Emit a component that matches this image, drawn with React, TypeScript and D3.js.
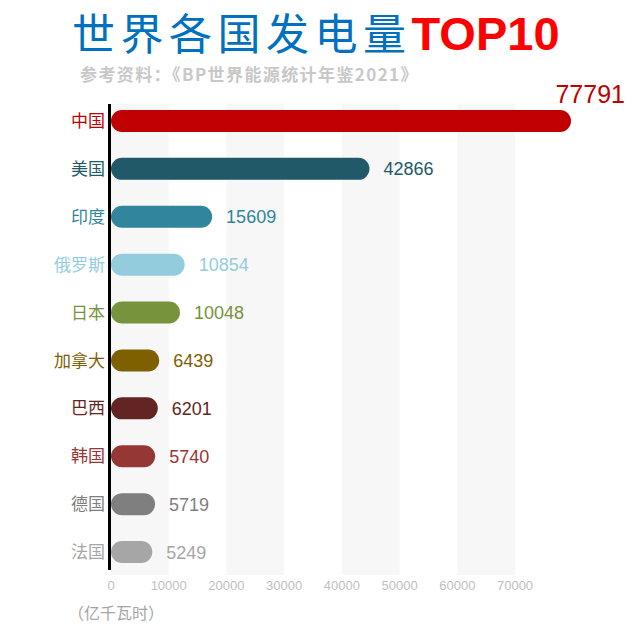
import * as React from "react";
import * as d3 from "d3";

const countries = ["中国", "美国", "印度", "俄罗斯", "日本", "加拿大", "巴西", "韩国", "德国", "法国"];
const output = [77791, 42866, 15609, 10854, 10048, 6439, 6201, 5740, 5719, 5249];
const colors = ["#c00000", "#215968", "#31859c", "#93cddd", "#77933c", "#7f6000", "#632523", "#953735", "#7f7f7f", "#a6a6a6"];
const ticks = [0, 10000, 20000, 30000, 40000, 50000, 60000, 70000];
const stripes = [[0, 10000], [20000, 30000], [40000, 50000], [60000, 70000]];

const W = 640;
const H = 637;
const CJK = "'Noto Sans CJK SC', sans-serif";
const LAT = "'Liberation Sans', Arial, sans-serif";

export default function App() {
  const ref = React.useRef<SVGSVGElement | null>(null);

  React.useEffect(() => {
    const svg = d3.select(ref.current);
    svg.selectAll("*").remove();

    const x = d3.scaleLinear([0, 77791], [111, 560]);
    const y = d3
      .scaleBand<string>()
      .domain(countries)
      .range([97, 576])
      .paddingInner(0.54)
      .paddingOuter(0.27);
    const bh = y.bandwidth();
    const cap = bh / 2; // rounded end sticks out past the value

    // background stripes
    svg
      .append("g")
      .selectAll("rect")
      .data(stripes)
      .enter()
      .append("rect")
      .attr("x", (d) => x(d[0]))
      .attr("width", (d) => x(d[1]) - x(d[0]))
      .attr("y", 104)
      .attr("height", 471)
      .attr("fill", "#f7f7f7");

    // title
    const title = svg
      .append("text")
      .attr("x", 72)
      .attr("y", 50)
      .attr("font-size", 43);
    title
      .append("tspan")
      .attr("font-family", CJK)
      .attr("letter-spacing", 5.5)
      .attr("fill", "#0070c0")
      .text("世界各国发电量");
    title
      .append("tspan")
      .attr("font-family", LAT)
      .attr("font-weight", "bold")
      .attr("font-size", 47)
      .attr("fill", "#ff0000")
      .text("TOP10");

    svg
      .append("text")
      .attr("x", 80)
      .attr("y", 81)
      .attr("font-size", 17)
      .attr("letter-spacing", 1.4)
      .attr("font-weight", "bold")
      .attr("font-family", CJK)
      .attr("fill", "#c8c8c8")
      .text("参考资料：《BP世界能源统计年鉴2021》");

    // bars
    svg
      .append("g")
      .selectAll("rect")
      .data(countries)
      .enter()
      .append("rect")
      .attr("x", x(0))
      .attr("y", (d) => y(d)!)
      .attr("width", (_, i) => x(output[i]) - x(0) + cap)
      .attr("height", bh)
      .attr("rx", bh / 2)
      .attr("fill", (_, i) => colors[i]);

    // country labels
    svg
      .append("g")
      .selectAll("text")
      .data(countries)
      .enter()
      .append("text")
      .attr("x", 105)
      .attr("y", (d) => y(d)! + bh / 2)
      .attr("dy", "0.36em")
      .attr("text-anchor", "end")
      .attr("font-size", 17)
      .attr("font-family", CJK)
      .attr("fill", (_, i) => colors[i])
      .text((d) => d);

    // value labels
    svg
      .append("g")
      .selectAll("text")
      .data(countries)
      .enter()
      .append("text")
      .attr("x", (_, i) => (i === 0 ? 625 : x(output[i]) + cap + 14))
      .attr("y", (d, i) => (i === 0 ? 103 : y(d)! + bh / 2))
      .attr("dy", (_, i) => (i === 0 ? 0 : "0.36em"))
      .attr("text-anchor", (_, i) => (i === 0 ? "end" : "start"))
      .attr("font-size", (_, i) => (i === 0 ? 25 : 18))
      .attr("font-family", LAT)
      .attr("fill", (_, i) => colors[i])
      .text((_, i) => output[i]);

    // vertical axis line
    svg
      .append("line")
      .attr("x1", 109.5)
      .attr("x2", 109.5)
      .attr("y1", 104)
      .attr("y2", 570)
      .attr("stroke", "#000")
      .attr("stroke-width", 3);

    // x tick labels
    svg
      .append("g")
      .selectAll("text")
      .data(ticks)
      .enter()
      .append("text")
      .attr("x", (d) => x(d))
      .attr("y", 590)
      .attr("text-anchor", "middle")
      .attr("font-size", 13)
      .attr("font-family", LAT)
      .attr("fill", "#c0c0c0")
      .text((d) => d);

    svg
      .append("text")
      .attr("x", 68)
      .attr("y", 619)
      .attr("font-size", 16)
      .attr("font-family", CJK)
      .attr("fill", "#a6a6a6")
      .text("（亿千瓦时）");
  }, []);

  return (
    <svg
      ref={ref}
      width={W}
      height={H}
      style={{ position: "absolute", left: 0, top: 0, background: "#fff" }}
    />
  );
}
